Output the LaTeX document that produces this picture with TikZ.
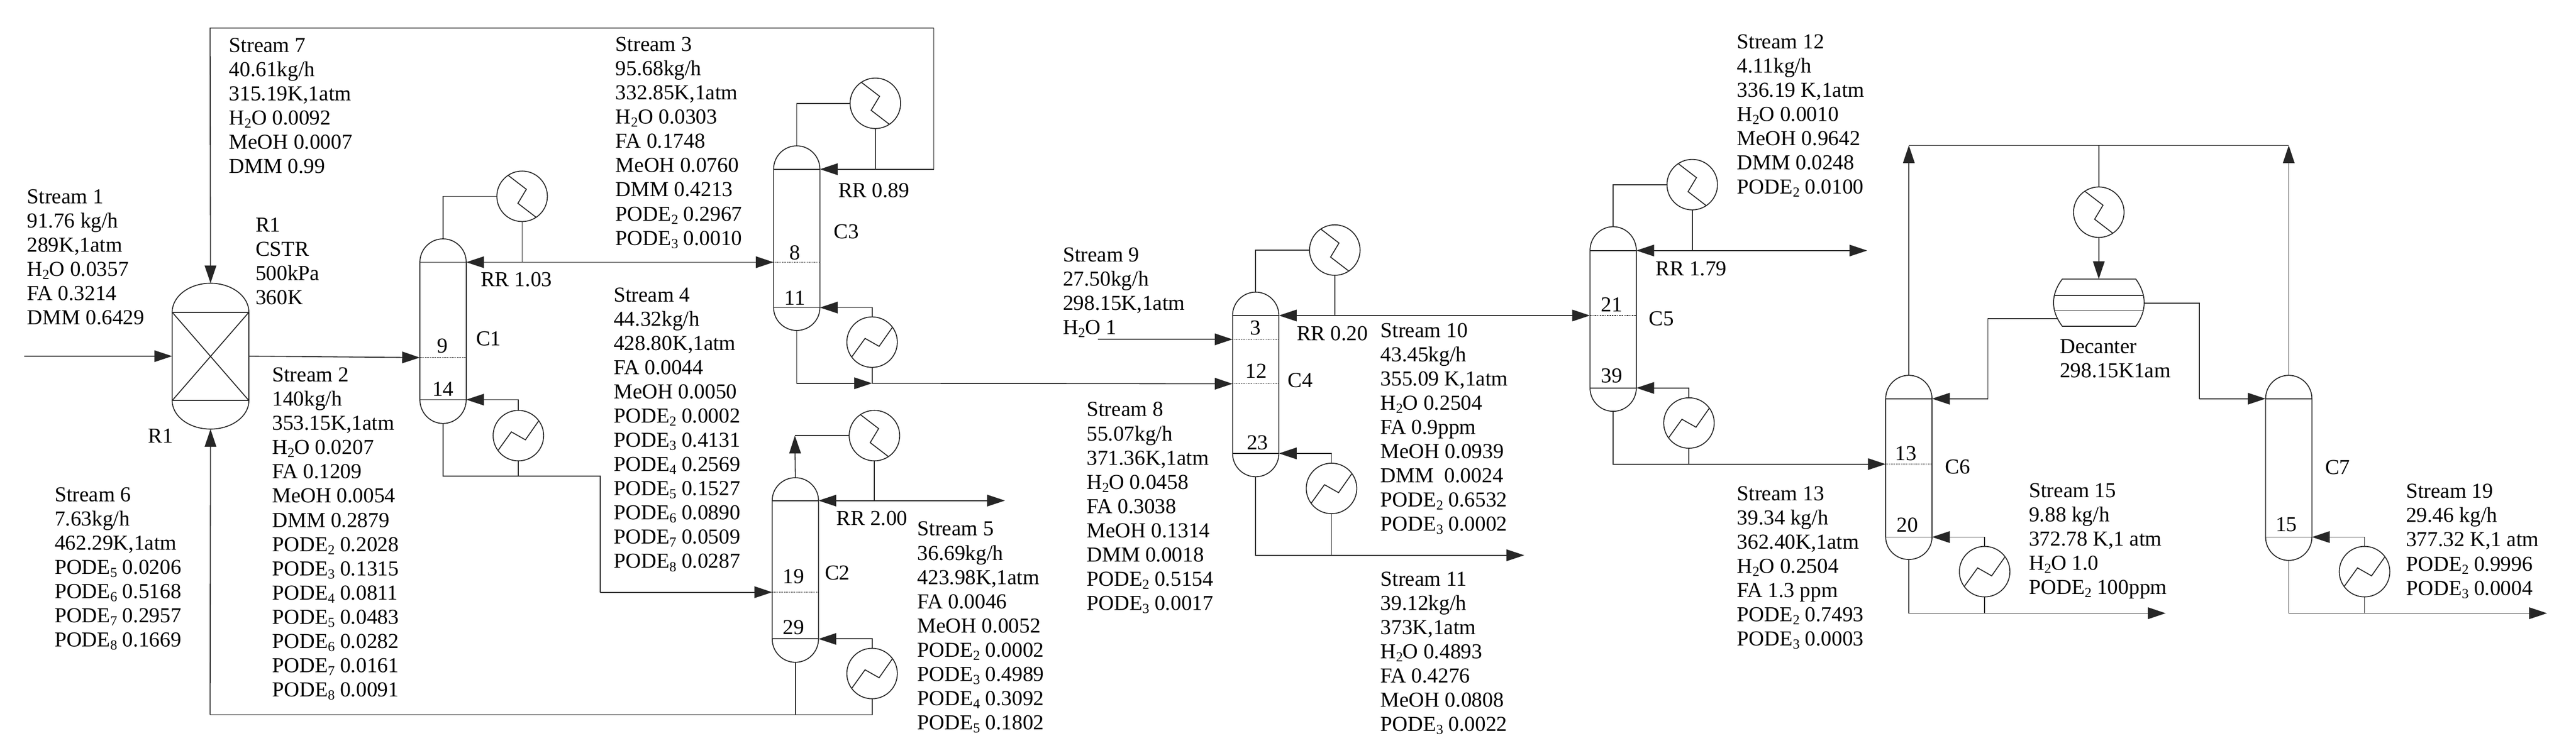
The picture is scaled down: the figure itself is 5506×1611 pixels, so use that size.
\documentclass[tikz,border=0pt]{standalone}
\usepackage{fontspec}
\setmainfont{Liberation Serif}
\usetikzlibrary{arrows.meta}
\newcommand\txt{\fontsize{11.4}{12.95}\selectfont}
\newcommand\sbs[1]{\raisebox{-0.32ex}{\fontsize{7.4}{8}\selectfont #1}}
\newcommand\fst{\rule{0pt}{10pt}}
\tikzset{
  line/.style={line width=0.5pt,draw=black!85},
  flow/.style={line,-{Triangle[length=9.5pt,width=6.2pt]}},
  bothflow/.style={line,{Triangle[length=9.5pt,width=6.2pt]}-{Triangle[length=9.5pt,width=6.2pt]}},
  traydots/.style={line width=0.35pt,draw=black,dash pattern=on 0.5pt off 0.4pt},
  hxbody/.style={circle,draw=black!85,line width=0.5pt,minimum size=27pt,inner sep=0pt,outer sep=0pt},
  blk/.style={anchor=north west,inner sep=0pt,align=left,font=\txt},
  lbl/.style={anchor=base west,inner sep=0pt,font=\txt},
  tray/.style={anchor=base,inner sep=0pt,font=\txt}
}
% name, cx, top, tangent top, tangent bottom, bottom, half width
\newcommand\tower[7]{%
  \coordinate (#1-top) at (#2,#3);
  \coordinate (#1-bot) at (#2,#6);
  \coordinate (#1-tl) at ({#2-#7},#4);
  \coordinate (#1-tr) at ({#2+#7},#4);
  \coordinate (#1-bl) at ({#2-#7},#5);
  \coordinate (#1-br) at ({#2+#7},#5);
  \draw[line] (#1-tl) .. controls ({#2-#7},{#4-0.5523*(#4-#3)}) and ({#2-0.5523*#7},#3) .. (#1-top)
     .. controls ({#2+0.5523*#7},#3) and ({#2+#7},{#4-0.5523*(#4-#3)}) .. (#1-tr)
     -- (#1-br)
     .. controls ({#2+#7},{#5+0.5523*(#6-#5)}) and ({#2+0.5523*#7},#6) .. (#1-bot)
     .. controls ({#2-0.5523*#7},#6) and ({#2-#7},{#5+0.5523*(#6-#5)}) .. (#1-bl)
     -- cycle;
  \draw[line] (#1-tl) -- (#1-tr);
  \draw[line] (#1-bl) -- (#1-br);
}
% tower name, feed name, cx, hw, y
\newcommand\feedtray[5]{%
  \coordinate (#2) at ({#3-#4},#5);
  \coordinate (#2r) at ({#3+#4},#5);
  \draw[traydots] (#2) -- (#2r);
}
\newcommand\cond[3]{%
  \node[hxbody] (#1) at (#2,#3) {};
  \draw[line,shift={(#2,#3)}] (-30,-45) -- (9,-15) -- (-9,15) -- (30,45);
}
\newcommand\reb[3]{%
  \node[hxbody] (#1) at (#2,#3) {};
  \draw[line,shift={(#2,#3)}] (-43,31) -- (-15,-8) -- (15,9) -- (43,-31);
}
\begin{document}
\begin{tikzpicture}[x=0.25pt,y=-0.25pt]
\useasboundingbox (0,0) rectangle (5506,1611);

% ---------- equipment ----------
\tower{R1}{450}{606}{668}{857}{918}{82}
\draw[line] (R1-tl) -- (R1-br);
\draw[line] (R1-tr) -- (R1-bl);
\coordinate (R1-w) at (368,762);
\coordinate (R1-e) at (532,762);

\tower{C1}{947}{511}{561}{855}{906}{49.5}
\feedtray{C1}{C1f}{947}{49.5}{765}
\cond{C1c}{1116}{420}
\reb{C1r}{1108}{932}

\tower{C2}{1700}{1022}{1071}{1367}{1417}{49.5}
\feedtray{C2}{C2f}{1700}{49.5}{1267}
\cond{C2c}{1869}{932}
\reb{C2r}{1864}{1441}

\tower{C3}{1703}{312}{362}{658}{707}{49.5}
\feedtray{C3}{C3f}{1703}{49.5}{561}
\cond{C3c}{1871}{221}
\reb{C3r}{1864}{732}

\tower{C4}{2684}{625}{675}{970}{1020}{49.5}
\feedtray{C4}{C4fa}{2684}{49.5}{726}
\feedtray{C4}{C4fb}{2684}{49.5}{821}
\cond{C4c}{2853}{535}
\reb{C4r}{2846}{1045}

\tower{C5}{3448}{485}{536}{830}{880}{49.5}
\feedtray{C5}{C5f}{3448}{49.5}{675}
\cond{C5c}{3617}{395}
\reb{C5r}{3610}{905}

\tower{C6}{4080}{803}{853}{1149}{1197}{49.5}
\feedtray{C6}{C6f}{4080}{49.5}{993}
\reb{C6r}{4242}{1223}

\tower{C7}{4892}{803}{853}{1149}{1199}{49.5}
\reb{C7r}{5054}{1223}

\cond{Dc}{4486}{454}
\draw[line] (4408,597) -- (4565,597) .. controls (4589,630) and (4589,665) .. (4565,698)
   -- (4408,698) .. controls (4383,665) and (4383,630) .. (4408,597) -- cycle;
\draw[line] (4391,632) -- (4582,632);
\draw[line] (4391,664.5) -- (4582,664.5);
\coordinate (Dtop) at (4486,597);
\coordinate (Dleft) at (4397,682);
\coordinate (Dright) at (4583,648.5);

% ---------- junctions and free ends ----------
\coordinate (s1in) at (52,762);
\coordinate (tl7) at (449,60);
\coordinate (tr7) at (1996,60);
\coordinate (c3loop) at (1996,362);
\coordinate (c3refl) at (1871,362);
\coordinate (c3bt) at (1703,820);
\coordinate (c3j) at (1864,820);
\coordinate (c1refl) at (1116,561);
\coordinate (c1bj) at (1108,1019);
\coordinate (c1bl) at (947,1019);
\coordinate (c1bd) at (1283,1019);
\coordinate (c1be) at (1283,1267);
\coordinate (c2vap) at (1699,932);
\coordinate (c2refl) at (1869,1071);
\coordinate (c2out) at (2148,1071);
\coordinate (c2bj) at (1700,1529);
\coordinate (c2rj) at (1864,1529);
\coordinate (rcbl) at (449,1529);
\coordinate (s9in) at (2347,726);
\coordinate (c4refl) at (2853,675);
\coordinate (c4bl) at (2684,1188);
\coordinate (c4rj) at (2846,1188);
\coordinate (c4out) at (3258,1188);
\coordinate (c5refl) at (3617,536);
\coordinate (c5out) at (3991,536);
\coordinate (c5bl) at (3448,993);
\coordinate (c5rj) at (3610,993);
\coordinate (c6up) at (4080,311);
\coordinate (c7up) at (4892,311);
\coordinate (dcj) at (4486,311);
\coordinate (dlk) at (4249,682);
\coordinate (dlj) at (4249,853);
\coordinate (drk) at (4701,648.5);
\coordinate (drj) at (4701,853);
\coordinate (c6bl) at (4080,1312);
\coordinate (c6rj) at (4242,1312);
\coordinate (c6out) at (4629,1312);
\coordinate (c7bl) at (4892,1312);
\coordinate (c7rj) at (5054,1312);
\coordinate (c7out) at (5444,1312);

% ---------- connectors ----------
\draw[flow] (s1in) -- (R1-w);
\draw[flow] (R1-e) -- (C1f);
\draw[flow] (tr7) -- (tl7) -- (R1-top);
\draw[line] (c3refl) -- (c3loop) -- (tr7);
\draw[flow] (c3refl) -- (C3-tr);
\draw[line] (C3-top) |- (C3c.west);
\draw[line] (C3c.south) -- (c3refl);
\draw[flow] (C3r.north) |- (C3-br);
\draw[line] (C3r.south) -- (c3j);
\draw[flow] (C3-bot) -- (c3bt) -- (c3j);
\draw[flow] (c3j) -- (C4fb);

\draw[line] (C1-top) |- (C1c.west);
\draw[line] (C1c.south) -- (c1refl);
\draw[bothflow] (C1-tr) -- (C3f);
\draw[flow] (C1r.north) |- (C1-br);
\draw[line] (C1r.south) -- (c1bj);
\draw[line] (C1-bot) -- (c1bl) -- (c1bd) -- (c1be);
\draw[flow] (c1be) -- (C2f);

\draw[flow] (C2-top) -- (c2vap);
\draw[line] (c2vap) -- (C2c.west);
\draw[line] (C2c.south) -- (c2refl);
\draw[bothflow] (C2-tr) -- (c2out);
\draw[flow] (C2r.north) |- (C2-br);
\draw[line] (C2-bot) -- (c2bj);
\draw[line] (C2r.south) -- (c2rj) -- (rcbl);
\draw[flow] (rcbl) -- (R1-bot);

\draw[flow] (s9in) -- (C4fa);
\draw[line] (C4-top) |- (C4c.west);
\draw[line] (C4c.south) -- (c4refl);
\draw[bothflow] (C4-tr) -- (C5f);
\draw[flow] (C4r.north) |- (C4-br);
\draw[line] (C4r.south) -- (c4rj);
\draw[line] (C4-bot) -- (c4bl) -- (c4rj);
\draw[flow] (c4rj) -- (c4out);

\draw[line] (C5-top) |- (C5c.west);
\draw[line] (C5c.south) -- (c5refl);
\draw[bothflow] (C5-tr) -- (c5out);
\draw[flow] (C5r.north) |- (C5-br);
\draw[line] (C5r.south) -- (c5rj);
\draw[line] (C5-bot) -- (c5bl) -- (c5rj);
\draw[flow] (c5rj) -- (C6f);

\draw[flow] (C6-top) -- (c6up);
\draw[flow] (C7-top) -- (c7up);
\draw[line] (c6up) -- (c7up);
\draw[line] (dcj) -- (Dc.north);
\draw[flow] (Dc.south) -- (Dtop);
\draw[line] (Dleft) -- (dlk) -- (dlj);
\draw[flow] (dlj) -- (C6-tr);
\draw[line] (Dright) -- (drk) -- (drj);
\draw[flow] (drj) -- (C7-tl);
\draw[flow] (C6r.north) |- (C6-br);
\draw[line] (C6r.south) -- (c6rj);
\draw[line] (C6-bot) -- (c6bl) -- (c6rj);
\draw[flow] (c6rj) -- (c6out);
\draw[flow] (C7r.north) |- (C7-br);
\draw[line] (C7r.south) -- (c7rj);
\draw[line] (C7-bot) -- (c7bl) -- (c7rj);
\draw[flow] (c7rj) -- (c7out);

% ---------- stream tables ----------
\node[blk] (s1) at (57,395) {\fst Stream 1\\91.76 kg/h\\289K,1atm\\H\sbs{2}O 0.0357\\FA 0.3214\\DMM 0.6429};
\node[blk] (s7) at (489,71) {\fst Stream 7\\40.61kg/h\\315.19K,1atm\\H\sbs{2}O 0.0092\\MeOH 0.0007\\DMM 0.99};
\node[blk] (r1info) at (545.5,455) {\fst R1\\CSTR\\500kPa\\360K};
\node[blk] (s6) at (116,1032) {\fst Stream 6\\7.63kg/h\\462.29K,1atm\\PODE\sbs{5} 0.0206\\PODE\sbs{6} 0.5168\\PODE\sbs{7} 0.2957\\PODE\sbs{8} 0.1669};
\node[blk] (s2) at (581,776) {\fst Stream 2\\140kg/h\\353.15K,1atm\\H\sbs{2}O 0.0207\\FA 0.1209\\MeOH 0.0054\\DMM 0.2879\\PODE\sbs{2} 0.2028\\PODE\sbs{3} 0.1315\\PODE\sbs{4} 0.0811\\PODE\sbs{5} 0.0483\\PODE\sbs{6} 0.0282\\PODE\sbs{7} 0.0161\\PODE\sbs{8} 0.0091};
\node[blk] (s3) at (1315,69) {\fst Stream 3\\95.68kg/h\\332.85K,1atm\\H\sbs{2}O 0.0303\\FA 0.1748\\MeOH 0.0760\\DMM 0.4213\\PODE\sbs{2} 0.2967\\PODE\sbs{3} 0.0010};
\node[blk] (s4) at (1311,605) {\fst Stream 4\\44.32kg/h\\428.80K,1atm\\FA 0.0044\\MeOH 0.0050\\PODE\sbs{2} 0.0002\\PODE\sbs{3} 0.4131\\PODE\sbs{4} 0.2569\\PODE\sbs{5} 0.1527\\PODE\sbs{6} 0.0890\\PODE\sbs{7} 0.0509\\PODE\sbs{8} 0.0287};
\node[blk] (s5) at (1960,1105.5) {\fst Stream 5\\36.69kg/h\\423.98K,1atm\\FA 0.0046\\MeOH 0.0052\\PODE\sbs{2} 0.0002\\PODE\sbs{3} 0.4989\\PODE\sbs{4} 0.3092\\PODE\sbs{5} 0.1802};
\node[blk] (s9) at (2271,519) {\fst Stream 9\\27.50kg/h\\298.15K,1atm\\H\sbs{2}O 1};
\node[blk] (s8) at (2322,850) {\fst Stream 8\\55.07kg/h\\371.36K,1atm\\H\sbs{2}O 0.0458\\FA 0.3038\\MeOH 0.1314\\DMM 0.0018\\PODE\sbs{2} 0.5154\\PODE\sbs{3} 0.0017};
\node[blk] (s10) at (2950,680.5) {\fst Stream 10\\43.45kg/h\\355.09 K,1atm\\H\sbs{2}O 0.2504\\FA 0.9ppm\\MeOH 0.0939\\DMM~~0.0024\\PODE\sbs{2} 0.6532\\PODE\sbs{3} 0.0002};
\node[blk] (s11) at (2950,1212.5) {\fst Stream 11\\39.12kg/h\\373K,1atm\\H\sbs{2}O 0.4893\\FA 0.4276\\MeOH 0.0808\\PODE\sbs{3} 0.0022};
\node[blk] (s12) at (3712,63) {\fst Stream 12\\4.11kg/h\\336.19 K,1atm\\H\sbs{2}O 0.0010\\MeOH 0.9642\\DMM 0.0248\\PODE\sbs{2} 0.0100};
\node[blk] (s13) at (3712,1030) {\fst Stream 13\\39.34 kg/h\\362.40K,1atm\\H\sbs{2}O 0.2504\\FA 1.3 ppm\\PODE\sbs{2} 0.7493\\PODE\sbs{3} 0.0003};
\node[blk] (s15) at (4336,1023) {\fst Stream 15\\9.88 kg/h\\372.78 K,1 atm\\H\sbs{2}O 1.0\\PODE\sbs{2} 100ppm};
\node[blk] (s19) at (5142,1025) {\fst Stream 19\\29.46 kg/h\\377.32 K,1 atm\\PODE\sbs{2} 0.9996\\PODE\sbs{3} 0.0004};
\node[blk] (dec) at (4402,715) {\fst Decanter\\298.15K1am};

% ---------- unit and ratio labels ----------
\node[lbl] (lR1) at (316,947) {R1};
\node[lbl] (lC1) at (1017,739) {C1};
\node[lbl] (lC2) at (1762.5,1241) {C2};
\node[lbl] (lC3) at (1782,510) {C3};
\node[lbl] (lC4) at (2752,829) {C4};
\node[lbl] (lC5) at (3524,696.5) {C5};
\node[lbl] (lC6) at (4157,1014) {C6};
\node[lbl] (lC7) at (4969,1015) {C7};
\node[lbl] (rr1) at (1027,613) {RR 1.03};
\node[lbl] (rr2) at (1787,1124) {RR 2.00};
\node[lbl] (rr3) at (1791,422) {RR 0.89};
\node[lbl] (rr4) at (2771,728) {RR 0.20};
\node[lbl] (rr5) at (3538,590) {RR 1.79};

% ---------- tray numbers ----------
\node[tray] (t9) at (946,755) {9};
\node[tray] (t14) at (947,847.5) {14};
\node[tray] (t19) at (1696,1248) {19};
\node[tray] (t29) at (1696,1357) {29};
\node[tray] (t8) at (1699,555) {8};
\node[tray] (t11) at (1699,652) {11};
\node[tray] (t3) at (2683,716.5) {3};
\node[tray] (t12) at (2685,809) {12};
\node[tray] (t23) at (2688,962) {23};
\node[tray] (t21) at (3445,667) {21};
\node[tray] (t39) at (3445,819) {39};
\node[tray] (t13) at (4074,985) {13};
\node[tray] (t20) at (4077,1138) {20};
\node[tray] (t15) at (4887,1137.5) {15};
\end{tikzpicture}
\end{document}
